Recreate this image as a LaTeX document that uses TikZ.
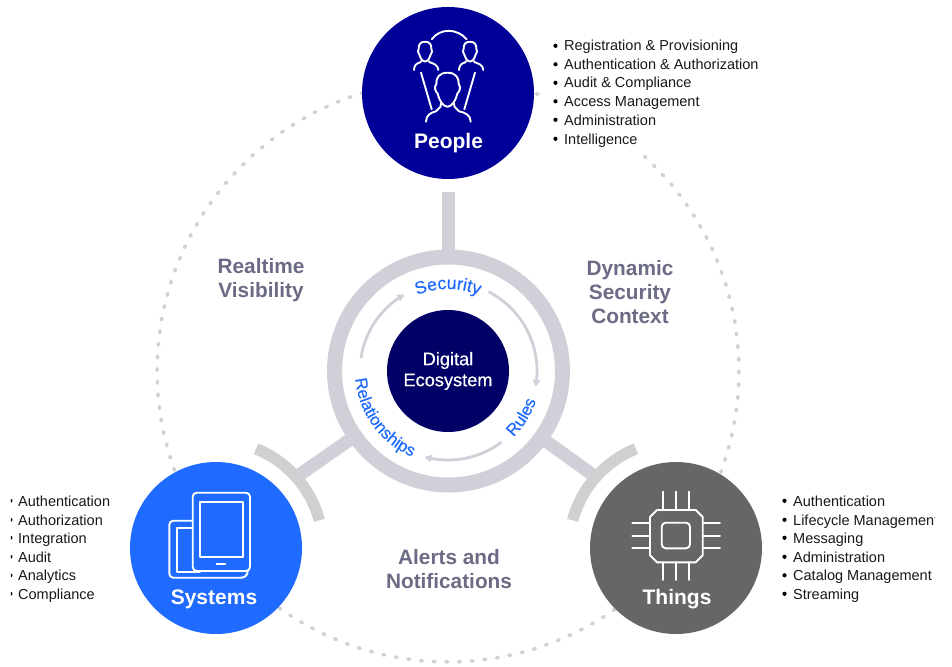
\documentclass[tikz,border=0pt]{standalone}
\usepackage{fontspec}
\setmainfont{Liberation Sans}
\newfontfamily\medfont[FakeBold=0.4]{Liberation Sans}
\newfontfamily\arcfont[FakeBold=0.4,LetterSpace=5]{Liberation Sans}
\usetikzlibrary{decorations.text,arrows.meta}
\definecolor{peopleblue}{HTML}{000099}
\definecolor{hubblue}{HTML}{000066}
\definecolor{sysblue}{HTML}{1F6BFF}
\definecolor{thinggray}{HTML}{666666}
\definecolor{ringgray}{HTML}{D0D0D8}
\definecolor{armgray}{HTML}{D0D0D2}
\definecolor{labelgray}{HTML}{6B6B85}
\newcommand{\arcplot}[5]{plot[domain=#4:#5,samples=90] ({#1+#3*cos(\x)},{#2-#3*sin(\x)})}
\tikzset{
  disc/.style={circle,inner sep=0pt,outer sep=0pt,minimum size=172pt,text=white},
  disclabel/.style={inner sep=0pt,anchor=base,text=white,font=\fontsize{21}{24}\selectfont\bfseries},
  grouplabel/.style={inner sep=0pt,align=center,text=labelgray,font=\fontsize{20.8}{24}\selectfont\bfseries},
  listtext/.style={inner sep=0pt,anchor=base west,text=black!90,font=\fontsize{14.5}{16}\selectfont},
  conn/.style={draw=ringgray,line width=13pt},
  bracket/.style={draw=armgray,line width=11.5pt},
  dotring/.style={draw=ringgray,line width=3.6pt,line cap=round,dash pattern=on 1.8pt off 10.9pt},
  flow/.style={draw=ringgray,line width=2.8pt,-{Triangle[length=6.5pt,width=7.5pt]}},
  glyph/.style={draw=white,line width=1.9pt,line cap=round,line join=round},
  curved/.style={postaction={decorate},decoration={text along path,text align=center,text color=sysblue,text={#1}}},
}
\begin{document}
\begin{tikzpicture}[x=1pt,y=-1pt]
\useasboundingbox (0,0) rectangle (952,666);
\fill[white] (0,0) rectangle (952,666);

% dotted orbit
\draw[dotring] \arcplot{448}{371}{291}{47.5}{-288};

% named anchor coordinates
\coordinate (topEnd) at (448.5,192);
\coordinate (sysEnd) at ({216+107*cos(41.5)},{548-107*sin(41.5)});
\coordinate (thingEnd) at ({676-107*cos(41.5)},{548-107*sin(41.5)});
\coordinate (hubC) at (448.5,371);

% connectors and brackets
\draw[conn] (hubC) -- (topEnd);
\draw[conn] (hubC) -- (sysEnd);
\draw[conn] (hubC) -- (thingEnd);
\draw[bracket] \arcplot{216}{548}{107}{15}{68};
\draw[bracket] \arcplot{676}{548}{107}{112}{165};

% ring and hub
\node[circle,draw=ringgray,line width=15pt,fill=white,inner sep=0pt,outer sep=0pt,minimum size=228pt] (ring) at (448.5,371) {};
\node[circle,fill=hubblue,inner sep=0pt,outer sep=0pt,minimum size=122pt,align=center,text=white,font=\medfont\fontsize{18.2}{21}\selectfont] (hub) at (448,371) {Digital\\Ecosystem};

% flow arrows
\draw[flow] \arcplot{448}{371}{89}{63}{-10};
\draw[flow] \arcplot{448}{371}{89}{-53}{-105};
\draw[flow] \arcplot{448}{371}{88}{171.5}{120};

% curved words
\path[curved={|\medfont\fontsize{17.6}{18}\selectfont|Security}] \arcplot{448}{371}{82}{125}{55};
\path[curved={|\arcfont\fontsize{16.9}{18}\selectfont|Relationships}] \arcplot{448}{371}{93}{156}{276};
\path[curved={|\arcfont\fontsize{16.9}{18}\selectfont|Rules}] \arcplot{448}{371}{93}{-65}{1};

% discs
\node[disc,fill=peopleblue] (people) at (448,93) {};
\node[disc,fill=sysblue] (systems) at (216,548) {};
\node[disc,fill=thinggray] (things) at (676,548) {};
\node[disclabel] (peopleLabel) at (448.5,148) {People};
\node[disclabel] (systemsLabel) at (214,604.5) {Systems};
\node[disclabel] (thingsLabel) at (677,604.5) {Things};

% people icon
\begin{scope}[glyph]
\draw (431.7,39.3) .. controls (440,28) and (457,28) .. (466.7,39.3);
\foreach \hx in {425,470}{
\draw (\hx,41.7) .. controls (\hx-5,41.7) and (\hx-6.5,45) .. (\hx-6.3,48.5) .. controls (\hx-7.8,50.5) and (\hx-7,53) .. (\hx-5.5,55) .. controls (\hx-4.5,58.5) and (\hx-2.5,61.5) .. (\hx,61.5) .. controls (\hx+2.5,61.5) and (\hx+4.5,58.5) .. (\hx+5.5,55) .. controls (\hx+7,53) and (\hx+7.8,50.5) .. (\hx+6.3,48.5) .. controls (\hx+6.5,45) and (\hx+5,41.7) .. (\hx,41.7);
\draw (\hx-4,61) -- (\hx-4.6,62.3) .. controls (\hx-8,63.2) and (\hx-11,65) .. (\hx-11,70);
\draw (\hx+4,61) -- (\hx+4.6,62.3) .. controls (\hx+8,63.2) and (\hx+13.3,65) .. (\hx+13.3,70);
}
\draw (447.5,72.7) .. controls (439,72.7) and (436,78) .. (436.3,84) .. controls (434,87) and (435,91) .. (437.6,93.5) .. controls (439,100) and (443,106.7) .. (447.5,106.7) .. controls (452,106.7) and (456,100) .. (457.4,93.5) .. controls (460,91) and (461,87) .. (458.7,84) .. controls (459,78) and (456,72.7) .. (447.5,72.7);
\draw (426,121.7) .. controls (426,115) and (431,112.5) .. (436,111.3) -- (440.5,106.8) -- (441,103.5);
\draw (454,103.5) -- (454.5,106.8) -- (459,111.3) .. controls (465,112.5) and (470.7,115) .. (470.7,121.7);
\draw (421,72.7) -- (431.7,109.3);
\draw (475,72.7) -- (464.3,109.3);
\end{scope}

% systems icon
\begin{scope}[glyph]
\draw[rounded corners=4pt] (192.7,492.7) rectangle (250,571);
\draw (200,501.7) rectangle (243.3,556.7);
\draw (216.7,564) -- (225.5,564);
\draw[rounded corners=4pt] (192.7,520.7) -- (169.3,520.7) -- (169.3,577.7) -- (241,577.7);
\draw (241,577.7) .. controls (245,577.5) and (247.7,575) .. (247.7,571);
\draw (192.7,527.7) -- (177.3,527.7) -- (177.3,571.7) -- (200,571.7);
\end{scope}

% things icon
\begin{scope}[glyph]
\draw (657,510) -- (695.7,510) -- (702.7,517) -- (702.7,555.3) -- (695.7,562.3) -- (657,562.3) -- (650,555.3) -- (650,517) -- cycle;
\draw[rounded corners=4pt] (661.7,522.7) rectangle (690,548.3);
\foreach \px in {663.3,676,689}{
  \draw (\px,491.7) -- (\px,510);
  \draw (\px,562.3) -- (\px,580);
}
\foreach \py in {523.3,535.7,547.7}{
  \draw (632.3,\py) -- (650,\py);
  \draw (702.7,\py) -- (720,\py);
}
\end{scope}

% group labels
\node[grouplabel] (realtime) at (261,280) {Realtime\\Visibility};
\node[grouplabel] (dynamic) at (630,292) {Dynamic\\Security\\Context};
\node[grouplabel] (alerts) at (449,569) {Alerts and\\Notifications};

% lists
\foreach \t/\yy in {Registration \& Provisioning/51,Authentication \& Authorization/69.5,Audit \& Compliance/88,Access Management/106.5,Administration/125,Intelligence/144}{
  \fill[black] (555.5,\yy-5.2) circle[radius=2.1];
  \node[listtext] at (564,\yy) {\t};
}
\begin{scope}
\clip (10.8,480) rectangle (130,610);
\foreach \t/\yy in {Authentication/506,Authorization/525,Integration/543,Audit/562,Analytics/580.5,Compliance/599}{
  \fill[black] (10.5,\yy-5.2) circle[radius=2];
  \node[listtext] at (18,\yy) {\t};
}
\end{scope}
\begin{scope}
\clip (770,480) rectangle (934.5,610);
\foreach \t/\yy in {Authentication/506,Lifecycle Management/525,Messaging/543,Administration/562,Catalog Management/580.5,Streaming/599}{
  \fill[black] (784.5,\yy-5.2) circle[radius=2.1];
  \node[listtext] at (793,\yy) {\t};
}
\end{scope}
\end{tikzpicture}
\end{document}
